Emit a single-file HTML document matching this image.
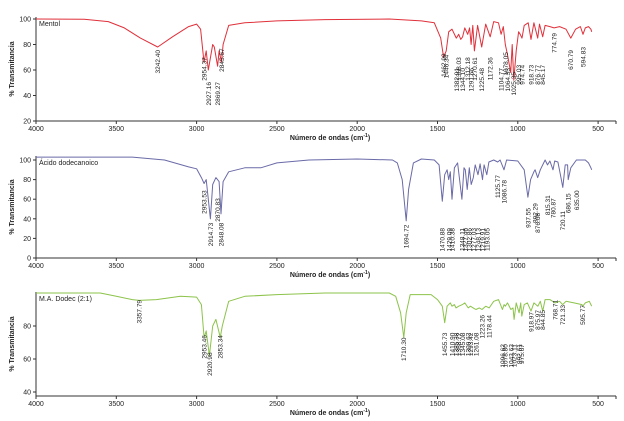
<!DOCTYPE html>
<html><head><meta charset="utf-8">
<style>
html,body{margin:0;padding:0;background:#fff;}
svg{display:block;font-family:"Liberation Sans",sans-serif;}
</style></head>
<body>
<svg id="chart" width="624" height="421" viewBox="0 0 624 421" xmlns="http://www.w3.org/2000/svg"></svg>
<script>
// ---- Panel 1: Mentol ----
const mentolW = [4000,3700,3550,3450,3350,3242,3150,3050,3000,2975,2954,2940,2927,2900,2890,2869,2860,2845,2835,2800,2700,2500,2200,1800,1600,1520,1480,1462,1446,1430,1410,1383,1368,1355,1344,1330,1312,1300,1291,1280,1270,1250,1225,1200,1172,1150,1120,1104,1090,1078,1064,1044,1035,1025,1010,995,985,974,960,935,918,900,876,865,845,830,800,774,740,700,670,640,610,594,580,560,545,540];
const mentolT = [100,99.8,98,93,85,78,86,94,96,92,66,75,60,80,78,63,75,66,80,95,97,98.5,99.5,100,98.5,97,85,70,75,90,92,85,88,84,86,93,88,93,80,95,75,95,78,96,86,98,97,88,94,80,72,58,80,52,75,90,88,85,95,97,84,97,85,96,86,95,94,93,94,92,85,92,94,88,93,94,92,90];
const mentolLabels = ["3242.40","2954.37","2927.16","2869.27","2845.67","1462.99","1446.34","1382.91","1368.03","1344.10","1312.18","1291.66","1270.61","1225.48","1172.36","1104.77","1078.05","1064.33","1025.35","995.03","974.74","918.73","876.77","845.17","774.79","670.79","594.83"];
const mentolLabelT = [75.7,70,50.6,50.6,77,73,72,61.6,70,61.6,70,61.6,70,61.6,70,61.6,74,61.6,58.4,64,64,64,64,64,89,75.7,78];
const mentolYTicks = [100,80,60,40,20];

// ---- Panel 2: Acido dodecanoico ----
const acidoW = [4000,3400,3200,3050,3000,2970,2953,2940,2914,2900,2880,2870,2860,2848,2835,2800,2700,2600,2500,2300,2000,1780,1750,1720,1695,1680,1650,1600,1520,1490,1470,1455,1440,1430,1420,1410,1395,1375,1348,1335,1327,1315,1302,1290,1277,1265,1248,1235,1220,1210,1193,1180,1150,1125,1110,1086,1070,1000,960,937,920,900,892,876,860,830,815,800,781,770,750,735,720,705,690,686,670,635,580,560,545,540];
const acidoT = [103,103,100,93,91,82,76,80,40,75,82,80,78,45,78,88,92,92,97,100,101,100,97,80,38,70,97,101,100,95,58,85,90,80,88,60,92,97,60,92,90,70,92,75,82,95,85,96,80,95,85,98,100,98,100,90,100,99,90,62,80,88,90,82,90,100,95,99,90,99,98,85,72,95,95,80,92,100,100,97,92,90];
const acidoLabels = ["2953.53","2914.73","2870.83","2848.08","1694.72","1470.88","1429.09","1410.38","1348.11","1327.46","1302.86","1277.03","1248.13","1219.91","1193.05","1125.77","1086.78","937.55","892.29","876.08","815.31","780.87","720.11","686.15","635.00"];
const acidoLabelT = [69,36,61,36,34,30.6,30.6,30.6,30.6,30.6,30.6,30.6,30.6,30.6,30.6,84.7,79.6,51,56,46,64,61,48,66,69];
const acidoYTicks = [100,80,60,40,20,0];

// ---- Panel 3: M.A. Dodec (2:1) ----
const madW = [4000,3600,3500,3400,3357,3250,3100,3000,2970,2953,2940,2920,2900,2880,2860,2853,2840,2800,2700,2500,2200,1800,1760,1730,1710,1695,1670,1540,1500,1470,1455,1440,1420,1410,1395,1385,1368,1345,1330,1309,1295,1278,1261,1240,1223,1200,1178,1150,1120,1096,1085,1078,1064,1043,1030,1023,1010,992,982,975,960,940,918,900,875,860,845,830,800,768,740,721,700,650,600,596,580,555,545,540];
const madT = [100,100,98,96,95.5,96,98,97.5,93,73,77,62,80,84,76,73,80,95,98,99,100,100,98,88,73,88,99,99,96,92,82,92,94,92,93,91,92,93,94,91,92,91,90,91,90,92,91,95,96,90,93,92,94,90,91,84,94,88,94,86,93,94,89,94,92,95,89,96,96,94,95,93,95,94,93,92,94,95,93,92];
const madLabels = ["3357.79","2953.46","2920.98","2853.34","1710.30","1455.73","1410.90","1385.38","1368.72","1345.08","1309.62","1293.42","1261.08","1223.26","1178.44","1096.62","1078.80","1043.63","1023.11","992.61","975.67","918.97","875.97","844.85","768.71","721.33","595.77"];
const madLabelT = [95.8,74.5,64,74.5,73,76,76,76,76,76,76,76,76,86.7,86.7,69,69,69,69,69,69,88.5,89.7,89.7,95.8,92.7,92.7];
const madYTicks = [80,60,40];

const xTicks = [4000,3500,3000,2500,2000,1500,1000,500];

const NS = "http://www.w3.org/2000/svg";
const svg = document.getElementById('chart');
function mk(tag, attrs, parent){ const e=document.createElementNS(NS,tag); for(const k in attrs) e.setAttribute(k,attrs[k]); (parent||svg).appendChild(e); return e; }
function xScale(w){ return 36 + (4000 - w) * 0.1606; }

function panel(cfg){
  const g = mk('g',{});
  
  
  const y = t => cfg.y100 + (100 - t) * cfg.k;
  // axes
  const ax = mk('line',{x1:36,y1:cfg.top,x2:36,y2:cfg.axisY,stroke:'#333','stroke-width':1},g);
  
  
  const bx = mk('line',{x1:36,y1:cfg.axisY,x2:616,y2:cfg.axisY,stroke:'#333','stroke-width':1},g);
  
  
  xTicks.forEach(w=>{
    const X=xScale(w);
    mk('line',{x1:X,y1:cfg.axisY,x2:X,y2:cfg.axisY+3,stroke:'#333','stroke-width':1},g);
    const t=mk('text',{x:X,y:cfg.axisY+10,'font-size':7,'text-anchor':'middle',fill:'#222'},g);
    t.textContent=w;
    
    
  });
  mk('line',{x1:616,y1:cfg.axisY,x2:616,y2:cfg.axisY+3,stroke:'#333','stroke-width':1},g);
  cfg.yTicks.forEach(v=>{
    const Y=y(v);
    mk('line',{x1:33,y1:Y,x2:36,y2:Y,stroke:'#333','stroke-width':1},g);
    const t=mk('text',{x:31,y:Y+2.5,'font-size':7,'text-anchor':'end',fill:'#222'},g);
    t.textContent=v;
    
    
  });
  const yt=mk('text',{x:14,y:(cfg.top+cfg.axisY)/2,'font-size':7,'font-weight':'bold','text-anchor':'middle',fill:'#222',transform:`rotate(-90 14 ${(cfg.top+cfg.axisY)/2})`},g);
  yt.textContent='% Transmitancia';
  
  
  const xt=mk('text',{x:330,y:cfg.axisY+19,'font-size':7,'font-weight':'bold','text-anchor':'middle',fill:'#222'},g);
  xt.innerHTML='Número de ondas (cm<tspan font-size="5" dy="-3">-1</tspan><tspan dy="3">)</tspan>';
  
  
  const nm=mk('text',{x:39,y:cfg.top+9,'font-size':7,fill:'#222'},g);
  nm.textContent=cfg.title;
  
  
  // spectrum
  const pts = cfg.W.map((w,i)=>xScale(w).toFixed(1)+','+y(cfg.T[i]).toFixed(1)).join(' ');
  const pl=mk('polyline',{points:pts,fill:'none',stroke:cfg.color,'stroke-width':1,'stroke-linejoin':'round'},g);
  
  
  // peak labels
  cfg.labels.forEach((s,i)=>{
    const X=xScale(parseFloat(s))+2.5, Y=y(cfg.labelT[i]);
    const t=mk('text',{x:X,y:Y,'font-size':6.5,'text-anchor':'end',fill:'#222',transform:`rotate(-90 ${X} ${Y})`},g);
    t.textContent=s;
    
    
  });
}

panel({id:'mentol',name:'mentol-panel',title:'Mentol',W:mentolW,T:mentolT,labels:mentolLabels,labelT:mentolLabelT,yTicks:mentolYTicks,y100:19,k:1.275,top:17,axisY:121,color:'#e0303a'});
panel({id:'acido',name:'acido-dodecanoico-panel',title:'Ácido dodecanoico',W:acidoW,T:acidoT,labels:acidoLabels,labelT:acidoLabelT,yTicks:acidoYTicks,y100:160,k:0.98,top:156,axisY:258,color:'#6a6aa8'});
panel({id:'mad',name:'ma-dodec-panel',title:'M.A. Dodec (2:1)',W:madW,T:madT,labels:madLabels,labelT:madLabelT,yTicks:madYTicks,y100:293,k:1.65,top:292,axisY:396,color:'#8cc34a'});
</script>
</body></html>
